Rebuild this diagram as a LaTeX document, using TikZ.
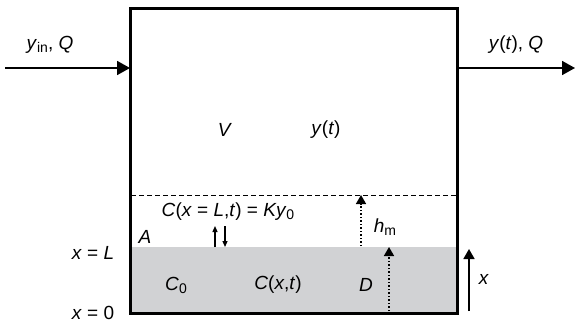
\documentclass[tikz,border=0pt]{standalone}
\usepackage{fontspec}
\setmainfont{Liberation Sans}
\usetikzlibrary{arrows.meta}
\definecolor{sed}{HTML}{D1D2D4}
\newcommand{\mysub}[1]{\raisebox{-0.3ex}{\fontsize{14}{14}\selectfont #1}}
\tikzset{
  lbl/.style={inner sep=0pt, font=\fontsize{19}{22}\selectfont},
  flow/.style={line width=1.8pt, -{Triangle[length=13pt,width=14pt]}},
  dotarrow/.style={line width=1.5pt, dotted, -{Triangle[length=9pt,width=10pt]}},
  smallarrow/.style={line width=1.3pt, -{Triangle[length=6pt,width=5pt]}},
}
\begin{document}
\begin{tikzpicture}[x=1pt,y=-1pt]
\useasboundingbox (0,0) rectangle (575,322);
% sediment
\fill[sed] (130,247) rectangle (457,313);
% dashed line
\draw[line width=0.8pt, dash pattern=on 5pt off 3pt] (131,195) -- (456,195);
% box
\draw[line width=3pt] (130,8) rectangle (457,313);
% coordinates
\coordinate (inS) at (5,68);
\coordinate (inE) at (130,68);
\coordinate (outS) at (458,68);
\coordinate (outE) at (575,68);
\draw[flow] (inS) -- (inE);
\draw[flow] (outS) -- (outE);
% labels
\node[lbl] (yin) at (50,45) {\textit{y}\mysub{in}, \textit{Q}};
\node[lbl] (yout) at (516,45) {\textit{y}(\textit{t}), \textit{Q}};
\node[lbl] (V) at (225,130) {\textit{V}};
\node[lbl] (yt) at (326,130) {\textit{y}(\textit{t})};
\node[lbl] (Ceq) at (228,212) {\textit{C}(\textit{x} = \textit{L},\textit{t}) = \textit{Ky}\mysub{0}};
\node[lbl] (A) at (145,237) {\textit{A}};
\node[lbl] (xL) at (93,253) {\textit{x} = \textit{L}};
\node[lbl] (x0) at (93,313) {\textit{x} = 0};
\node[lbl] (C0) at (176,285) {\textit{C}\mysub{0}};
\node[lbl] (Cxt) at (278,285) {\textit{C}(\textit{x},\textit{t})};
\node[lbl] (D) at (366,285) {\textit{D}};
\node[lbl] (hm) at (385,227) {\textit{h}\mysub{m}};
\node[lbl] (xlab) at (484,279) {\textit{x}};
% small exchange arrows
\coordinate (a1s) at (215,247); \coordinate (a1e) at (215,226);
\coordinate (a2s) at (225,226); \coordinate (a2e) at (225,247);
\draw[smallarrow] (a1s) -- (a1e);
\draw[smallarrow] (a2s) -- (a2e);
% dotted arrows
\coordinate (hs) at (361,246); \coordinate (he) at (361,195);
\coordinate (ds) at (389,311); \coordinate (de) at (389,247);
\draw[dotarrow] (hs) -- (he);
\draw[dotarrow] (ds) -- (de);
% x arrow
\coordinate (xs) at (469,311); \coordinate (xe) at (469,249);
\draw[line width=1.7pt, -{Triangle[length=10pt,width=11pt]}] (xs) -- (xe);
\end{tikzpicture}
\end{document}
